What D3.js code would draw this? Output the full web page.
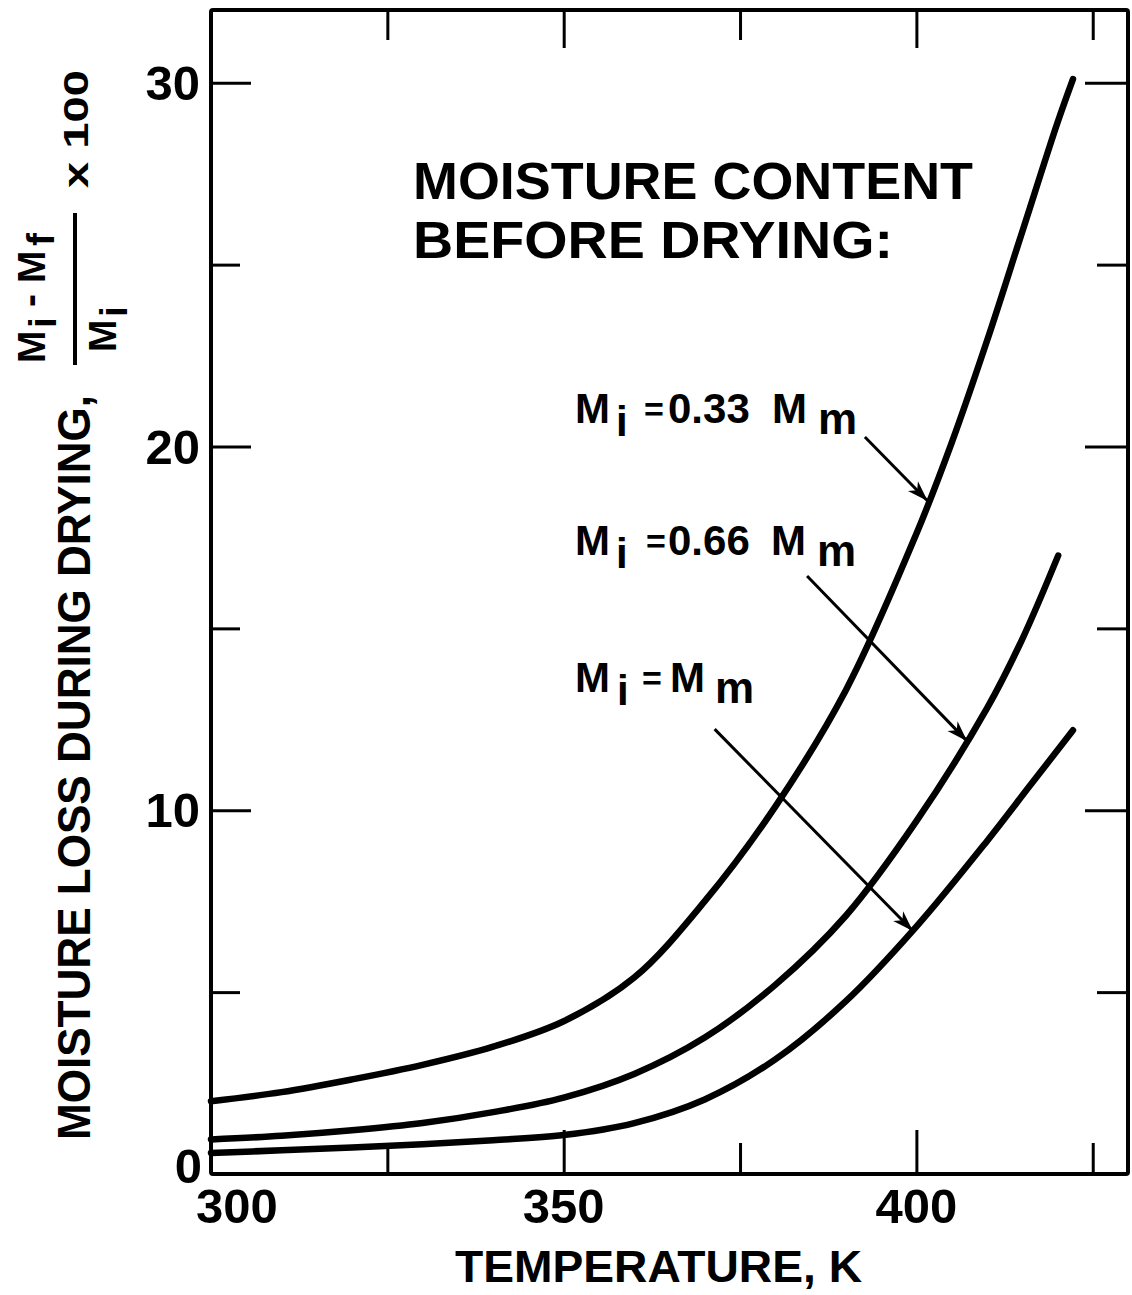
<!DOCTYPE html>
<html><head><meta charset="utf-8">
<script src="https://cdn.jsdelivr.net/npm/d3@7"></script>
<style>
body{margin:0;background:#fff}
svg{display:block}
text{font-family:"Liberation Sans",Arial,sans-serif;font-weight:bold;fill:#000}
</style>
</head><body>
<svg id="c" width="1132" height="1295"></svg>
<script>
// ---- data ----
const temps033 = [300,310,320,330,340,350,360,370,380,390,400,405,410,415,420,422.2];
const loss033  = [2.0,2.25,2.6,3.0,3.5,4.2,5.4,7.5,10.1,13.3,17.6,20.1,22.9,25.9,28.9,30.1];
const temps066 = [300,310,320,330,340,350,360,370,380,390,400,410,415,420.1];
const loss066  = [0.95,1.05,1.2,1.4,1.7,2.1,2.75,3.75,5.2,7.1,9.7,12.8,14.7,17.0];
const temps100 = [300,310,320,330,340,350,360,370,380,390,400,410,416,422.2];
const loss100  = [0.58,0.65,0.73,0.82,0.93,1.07,1.4,2.05,3.15,4.75,6.8,9.15,10.65,12.2];

const xTickLabels = [300,350,400];
const xMajorTicks = [350,400];
const xMinorTicks = [325,375,425];
const yTickLabels = [0,10,20,30];
const yMajorTicks = [10,20,30];
const yMinorTicks = [5,15,25];

const xTitle = "TEMPERATURE, K";
const yTitle = "MOISTURE LOSS DURING DRYING,";
const boxTitle = ["MOISTURE CONTENT","BEFORE DRYING:"];

// arrows in data units: [fromT, fromV, toT, toV]
const arrows = [
  [392.7,20.26,401.6,18.5],
  [384.5,16.44,407.2,11.9],
  [371.4,12.23,399.5,6.68]
];

// ---- layout ----
const svg = d3.select("#c");
const L=211, R=1128, T=10, B=1174;
const x = d3.scaleLinear().domain([300,430]).range([L,R]);
const y = d3.scaleLinear().domain([0,32]).range([B,T]);

// defs: arrowhead
svg.append("defs").append("marker")
  .attr("id","ah").attr("markerUnits","userSpaceOnUse")
  .attr("viewBox","-22 -8 24 16").attr("refX",0).attr("refY",0)
  .attr("markerWidth",24).attr("markerHeight",16).attr("orient","auto")
  .append("path").attr("d","M0,0 L-21,-7 L-15,0 L-21,7 Z").attr("fill","#000");

// ticks through d3 axes (inward)
function tickAxis(axisFn, scale, vals, size, tr){
  const g = svg.append("g").attr("transform",tr)
    .call(axisFn(scale).tickValues(vals).tickSize(size).tickFormat(""));
  g.select(".domain").remove();
  g.selectAll(".tick line").attr("stroke","#000").attr("stroke-width",3);
}
tickAxis(d3.axisTop, x, xMajorTicks, 44, `translate(0,${B})`);
tickAxis(d3.axisTop, x, xMinorTicks, 31, `translate(0,${B})`);
tickAxis(d3.axisBottom, x, xMajorTicks, 38, `translate(0,${T})`);
tickAxis(d3.axisBottom, x, xMinorTicks, 30, `translate(0,${T})`);
tickAxis(d3.axisRight, y, yMajorTicks, 40, `translate(${L},0)`);
tickAxis(d3.axisRight, y, yMinorTicks, 29, `translate(${L},0)`);
tickAxis(d3.axisLeft, y, yMajorTicks, 43, `translate(${R},0)`);
tickAxis(d3.axisLeft, y, yMinorTicks, 31, `translate(${R},0)`);

// frame
svg.append("rect").attr("x",L).attr("y",T).attr("width",R-L).attr("height",B-T)
  .attr("fill","none").attr("stroke","#000").attr("stroke-width",4).attr("rx",2);

// curves
const line = d3.line().x(d=>x(d[0])).y(d=>y(d[1])).curve(d3.curveCatmullRom.alpha(0.5));
[[temps033,loss033],[temps066,loss066],[temps100,loss100]].forEach(([ts,vs])=>{
  svg.append("path").datum(ts.map((t,i)=>[t,vs[i]]))
    .attr("d",line).attr("fill","none").attr("stroke","#000")
    .attr("stroke-width",6.5).attr("stroke-linecap","round");
});

// arrows
arrows.forEach(a=>{
  svg.append("line").attr("x1",x(a[0])).attr("y1",y(a[1])).attr("x2",x(a[2])).attr("y2",y(a[3]))
    .attr("stroke","#000").attr("stroke-width",3).attr("marker-end","url(#ah)");
});

// tick labels
svg.selectAll(".xl").data(xTickLabels).enter().append("text")
  .attr("x",d=>x(d)+(d===300?26:0)).attr("y",1223).attr("text-anchor","middle")
  .attr("font-size",49).text(d=>d);
svg.selectAll(".yl").data(yTickLabels).enter().append("text")
  .attr("x",d=>d===0?202:200).attr("y",d=>y(d)+(d===0?9:17)).attr("text-anchor","end")
  .attr("font-size",49).text(d=>d);

// x title
svg.append("text").attr("x",455).attr("y",1282).attr("font-size",44)
  .attr("textLength",407).attr("lengthAdjust","spacingAndGlyphs").text(xTitle);

// y title (rotated)
svg.append("text").attr("transform","translate(90,1140) rotate(-90)")
  .attr("font-size",46).attr("textLength",745).attr("lengthAdjust","spacingAndGlyphs").text(yTitle);

// fraction in y title
function pieces(g, arr, size){
  arr.forEach(p=>{
    g.append("text").attr("x",p[1]).attr("y",p[2]).attr("font-size",p[3]||size).text(p[0]);
  });
}
const num = svg.append("g").attr("transform","translate(45,363) rotate(-90)");
pieces(num,[["M",0,0],["i",35,11],["-",56,-2],["M",80,0],["f",117,9]],39);
svg.append("line").attr("x1",75).attr("x2",75).attr("y1",213).attr("y2",365)
  .attr("stroke","#000").attr("stroke-width",4);
const den = svg.append("g").attr("transform","translate(116,352) rotate(-90)");
pieces(den,[["M",0,0],["i",35,11]],39);
svg.append("text").attr("transform","translate(88,188) rotate(-90)")
  .attr("font-size",35).attr("textLength",118).attr("lengthAdjust","spacingAndGlyphs").text("x 100");

// box title
boxTitle.forEach((t,i)=>{
  svg.append("text").attr("x",413).attr("y",i===0?199:258).attr("font-size",51)
    .attr("textLength",i===0?560:480).attr("lengthAdjust","spacingAndGlyphs").text(t);
});

// curve labels
const lab = svg.append("g");
function curveLabel(base, parts){
  parts.forEach(p=>{
    lab.append("text").attr("x",p[1]).attr("y",base+p[2]).attr("font-size",p[3]).text(p[0]);
  });
}
curveLabel(423,[["M",575,0,42],["i",616,13,42],["=",644,-2,34],["0.33",668,0,42],["M",772,0,42],["m",818,11,44]]);
curveLabel(555,[["M",575,0,42],["i",616,13,42],["=",646,-2,34],["0.66",668,0,42],["M",771,0,42],["m",817,11,44]]);
curveLabel(692,[["M",575,0,42],["i",617,13,42],["=",642,-2,34],["M",670,0,42],["m",715,11,44]]);
</script>
</body></html>
